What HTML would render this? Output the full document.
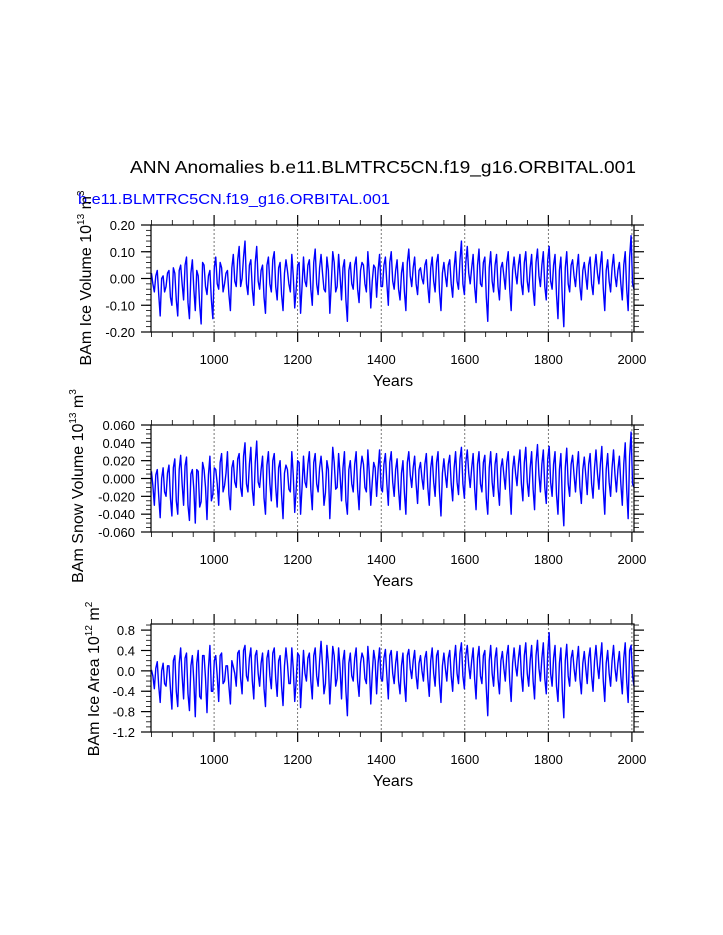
<!DOCTYPE html>
<html><head><meta charset="utf-8"><style>
html,body{margin:0;padding:0;background:#fff;}
svg{display:block;font-family:"Liberation Sans",Arial,sans-serif;}
</style></head><body>
<svg id="chart" width="723" height="935" viewBox="0 0 723 935">
<text x="383" y="173" font-size="17.5" text-anchor="middle" textLength="506" lengthAdjust="spacingAndGlyphs">ANN Anomalies b.e11.BLMTRC5CN.f19_g16.ORBITAL.001</text>
<text x="78" y="204" font-size="15" fill="#0000ff" textLength="312" lengthAdjust="spacingAndGlyphs">b.e11.BLMTRC5CN.f19_g16.ORBITAL.001</text>
<g id="panels"></g>
</svg>
<script>
const startYear = 850;
const yearStep = 7;
const xTicks = [1000,1200,1400,1600,1800,2000];
const iceVolume = [0.02,-0.05,0.03,-0.14,0.01,-0.03,0.03,-0.10,0.02,-0.14,0.05,-0.08,0.08,-0.15,0.07,-0.12,0.01,-0.17,0.05,-0.06,0.03,-0.15,0.08,-0.04,0.04,-0.02,
0.03,-0.12,0.09,-0.03,0.12,0.00,0.14,-0.06,0.07,-0.10,0.12,-0.04,0.05,-0.13,0.08,-0.05,0.10,-0.08,0.06,-0.12,0.07,-0.02,0.09,-0.11,0.05,-0.13,
0.08,-0.03,0.07,-0.10,0.11,-0.06,0.09,-0.04,0.08,-0.13,0.10,-0.05,0.09,-0.08,0.07,-0.16,0.06,-0.04,0.08,-0.09,0.06,-0.02,0.10,-0.11,0.05,-0.07,
0.09,-0.03,0.08,-0.10,0.10,-0.04,0.07,-0.08,0.06,-0.12,0.11,-0.03,0.08,-0.06,0.04,-0.02,0.07,-0.09,0.08,-0.05,0.09,-0.12,0.06,-0.03,0.07,-0.07,
0.10,-0.04,0.14,-0.06,0.12,-0.02,0.09,-0.09,0.11,-0.03,0.08,-0.16,0.10,-0.05,0.09,-0.08,0.06,-0.04,0.10,-0.12,0.08,-0.02,0.09,-0.06,0.10,-0.05,
0.09,-0.10,0.11,-0.03,0.10,-0.08,0.12,-0.04,0.09,-0.15,0.08,-0.18,0.10,-0.05,0.07,-0.03,0.09,-0.08,0.06,-0.04,0.08,-0.06,0.09,-0.02,0.10,-0.12,
0.07,-0.05,0.09,-0.03,0.06,-0.08,0.10,-0.12,0.16,-0.04];
const iceVolumeMid = [-0.02,0.01,-0.06,0.00,-0.05,0.02,-0.07,0.04,-0.08,0.03,-0.02,0.05,-0.09,0.02,-0.04,0.03,-0.10,0.06,-0.03,0.01,-0.08,0.04,-0.02,0.06,-0.05,0.02,
-0.06,0.04,-0.01,0.07,-0.03,0.08,-0.02,0.05,-0.04,0.06,-0.01,0.03,-0.07,0.05,-0.02,0.07,-0.03,0.04,-0.06,0.02,0.03,-0.05,0.01,-0.04,0.06,-0.03,
-0.01,0.05,-0.04,0.06,-0.02,0.04,0.02,-0.05,0.03,-0.02,0.06,-0.03,0.01,0.04,-0.08,0.03,-0.02,0.05,-0.04,0.03,0.05,-0.05,0.02,-0.01,0.04,0.03,
-0.03,0.05,-0.02,0.06,-0.01,0.03,-0.04,0.02,-0.05,0.06,0.01,0.04,-0.02,0.03,0.00,0.05,-0.03,0.04,-0.01,0.06,-0.05,0.02,0.01,0.05,-0.02,0.04,
-0.01,0.07,-0.02,0.06,0.02,0.04,-0.03,0.05,-0.02,0.06,-0.07,0.04,-0.01,0.05,-0.03,0.04,0.01,0.06,-0.04,0.03,0.02,0.05,-0.02,0.06,-0.01,0.04,
-0.04,0.06,0.01,0.05,-0.03,0.07,-0.01,0.05,-0.06,0.03,-0.08,0.04,-0.02,0.05,0.01,0.04,-0.03,0.03,0.01,0.05,-0.02,0.04,0.02,0.05,-0.04,0.03,
-0.01,0.04,0.01,0.03,-0.02,0.05,-0.04,0.08,-0.02,0.03];
const snowVolume = [0.008,-0.030,0.010,-0.044,0.012,-0.020,0.015,-0.042,0.022,-0.040,0.026,-0.030,0.024,-0.047,0.010,-0.050,0.008,-0.026,0.010,-0.046,0.025,-0.018,0.010,-0.030,0.028,-0.008,
0.030,-0.035,0.020,-0.010,0.028,-0.020,0.040,-0.015,0.035,-0.030,0.042,-0.010,0.025,-0.040,0.030,-0.025,0.028,-0.032,0.020,-0.045,0.015,-0.012,0.030,-0.038,0.020,-0.040,
0.025,-0.010,0.030,-0.035,0.028,-0.015,0.025,-0.030,0.020,-0.045,0.035,-0.012,0.028,-0.025,0.030,-0.040,0.020,-0.015,0.030,-0.035,0.025,-0.010,0.032,-0.030,0.018,-0.020,
0.032,-0.015,0.028,-0.030,0.030,-0.020,0.022,-0.035,0.020,-0.040,0.030,-0.010,0.025,-0.028,0.018,-0.012,0.028,-0.030,0.025,-0.020,0.030,-0.042,0.022,-0.010,0.026,-0.025,
0.030,-0.018,0.035,-0.022,0.032,-0.010,0.028,-0.035,0.030,-0.015,0.026,-0.040,0.030,-0.020,0.028,-0.030,0.022,-0.012,0.030,-0.040,0.025,-0.008,0.032,-0.025,0.035,-0.020,
0.030,-0.035,0.038,-0.015,0.032,-0.028,0.036,-0.020,0.030,-0.040,0.028,-0.053,0.034,-0.020,0.026,-0.015,0.030,-0.028,0.024,-0.018,0.028,-0.022,0.032,-0.012,0.036,-0.040,
0.028,-0.020,0.032,-0.015,0.025,-0.030,0.040,-0.045,0.052,-0.010];
const snowVolumeMid = [-0.008,0.004,-0.020,0.000,-0.015,0.006,-0.022,0.012,-0.025,0.010,-0.006,0.014,-0.030,0.005,-0.012,0.010,-0.032,0.018,-0.010,0.004,-0.025,0.012,-0.006,0.018,-0.015,0.006,
-0.018,0.012,-0.004,0.022,-0.010,0.025,-0.006,0.016,-0.012,0.018,-0.004,0.010,-0.022,0.015,-0.006,0.020,-0.010,0.012,-0.018,0.006,0.010,-0.015,0.004,-0.012,0.018,-0.010,
-0.004,0.016,-0.012,0.018,-0.006,0.012,0.006,-0.016,0.010,-0.006,0.018,-0.010,0.004,0.012,-0.025,0.010,-0.006,0.016,-0.012,0.010,0.016,-0.015,0.006,-0.004,0.012,0.010,
-0.010,0.016,-0.006,0.018,-0.004,0.010,-0.012,0.006,-0.016,0.018,0.004,0.012,-0.006,0.010,0.000,0.016,-0.010,0.012,-0.004,0.018,-0.015,0.006,0.004,0.016,-0.006,0.012,
-0.004,0.022,-0.006,0.018,0.006,0.012,-0.010,0.016,-0.006,0.018,-0.022,0.012,-0.004,0.016,-0.010,0.012,0.004,0.018,-0.012,0.010,0.006,0.016,-0.006,0.018,-0.004,0.012,
-0.012,0.018,0.004,0.016,-0.010,0.022,-0.004,0.016,-0.018,0.010,-0.025,0.012,-0.006,0.016,0.004,0.012,-0.010,0.010,0.004,0.016,-0.006,0.012,0.006,0.016,-0.012,0.010,
-0.004,0.012,0.004,0.010,-0.006,0.016,-0.012,0.025,-0.006,0.010];
const iceArea = [0.02,-0.35,0.18,-0.62,0.15,-0.30,0.10,-0.75,0.30,-0.70,0.45,-0.55,0.35,-0.78,0.30,-0.90,0.40,-0.55,0.30,-0.82,0.50,-0.40,0.30,-0.60,0.35,-0.20,
0.10,-0.65,0.08,-0.30,0.40,-0.45,0.50,-0.20,0.45,-0.55,0.40,-0.30,0.35,-0.70,0.40,-0.35,0.45,-0.50,0.30,-0.68,0.45,-0.25,0.45,-0.60,0.35,-0.72,
0.40,-0.20,0.35,-0.55,0.45,-0.30,0.58,-0.45,0.50,-0.65,0.48,-0.30,0.45,-0.55,0.40,-0.88,0.35,-0.20,0.45,-0.50,0.35,-0.15,0.48,-0.65,0.40,-0.45,
0.45,-0.20,0.42,-0.55,0.40,-0.25,0.38,-0.45,0.35,-0.60,0.42,-0.15,0.40,-0.35,0.30,-0.20,0.38,-0.50,0.45,-0.30,0.40,-0.62,0.35,-0.20,0.40,-0.40,
0.50,-0.25,0.55,-0.35,0.50,-0.15,0.45,-0.55,0.48,-0.25,0.40,-0.88,0.50,-0.30,0.45,-0.45,0.38,-0.20,0.50,-0.60,0.45,-0.10,0.50,-0.40,0.55,-0.30,
0.50,-0.55,0.60,-0.20,0.55,-0.45,0.75,-0.30,0.50,-0.60,0.45,-0.92,0.52,-0.30,0.40,-0.20,0.48,-0.45,0.38,-0.25,0.45,-0.40,0.50,-0.15,0.55,-0.60,
0.40,-0.30,0.50,-0.20,0.38,-0.45,0.55,-0.62,0.50,-0.30];
const iceAreaMid = [-0.10,0.05,-0.30,0.00,-0.25,0.10,-0.35,0.20,-0.40,0.15,-0.10,0.25,-0.45,0.10,-0.20,0.15,-0.50,0.30,-0.15,0.05,-0.40,0.20,-0.10,0.30,-0.25,0.10,
-0.30,0.20,-0.05,0.35,-0.15,0.40,-0.10,0.25,-0.20,0.30,-0.05,0.15,-0.35,0.25,-0.10,0.35,-0.15,0.20,-0.30,0.10,0.15,-0.25,0.05,-0.20,0.30,-0.15,
-0.05,0.25,-0.20,0.30,-0.10,0.20,0.10,-0.25,0.15,-0.10,0.30,-0.15,0.05,0.20,-0.40,0.15,-0.10,0.25,-0.20,0.15,0.25,-0.25,0.10,-0.05,0.20,0.15,
-0.15,0.25,-0.10,0.30,-0.05,0.15,-0.20,0.10,-0.25,0.30,0.05,0.20,-0.10,0.15,0.00,0.25,-0.15,0.20,-0.05,0.30,-0.25,0.10,0.05,0.25,-0.10,0.20,
-0.05,0.35,-0.10,0.30,0.10,0.20,-0.15,0.25,-0.10,0.30,-0.35,0.20,-0.05,0.25,-0.15,0.20,0.05,0.30,-0.20,0.15,0.10,0.25,-0.10,0.30,-0.05,0.20,
-0.20,0.30,0.05,0.25,-0.15,0.35,-0.05,0.25,-0.30,0.15,-0.40,0.20,-0.10,0.25,0.05,0.20,-0.15,0.15,0.05,0.25,-0.10,0.20,0.10,0.25,-0.20,0.15,
-0.05,0.20,0.05,0.15,-0.10,0.25,-0.20,0.40,-0.10,0.15];
const iceVolTicks = [-0.2,-0.1,0,0.1,0.2];
const iceVolTickLabels = ["-0.20","-0.10","0.00","0.10","0.20"];
const snowTicks = [-0.06,-0.04,-0.02,0,0.02,0.04,0.06];
const snowTickLabels = ["-0.060","-0.040","-0.020","0.000","0.020","0.040","0.060"];
const areaTicks = [-1.2,-0.8,-0.4,0,0.4,0.8];
const areaTickLabels = ["-1.2","-0.8","-0.4","0.0","0.4","0.8"];

const NS = "http://www.w3.org/2000/svg";
const X0 = 151, X1 = 634, YR0 = 849, YR1 = 2005;
function xScale(yr){ return X0 + (yr - YR0) / (YR1 - YR0) * (X1 - X0); }
function mk(tag, attrs, parent){
  const e = document.createElementNS(NS, tag);
  for (const k in attrs) e.setAttribute(k, attrs[k]);
  parent.appendChild(e); return e;
}
const root = document.getElementById('panels');

const panels = [
  {name:'ice-volume', data:iceVolume, mid:iceVolumeMid, top:225, bot:332, ymin:-0.2, ymax:0.2, ticks:iceVolTicks, labels:iceVolTickLabels, minor:0.02, lab:['BAm Ice Volume 10','13',' m','3'], labX:91, labY:278},
  {name:'snow-volume', data:snowVolume, mid:snowVolumeMid, top:425, bot:532, ymin:-0.06, ymax:0.06, ticks:snowTicks, labels:snowTickLabels, minor:0.005, lab:['BAm Snow Volume 10','13',' m','3'], labX:83, labY:486},
  {name:'ice-area', data:iceArea, mid:iceAreaMid, top:624, bot:732, ymin:-1.2, ymax:0.92, ticks:areaTicks, labels:areaTickLabels, minor:0.1, lab:['BAm Ice Area 10','12',' m','2'], labX:99, labY:679}
];

panels.forEach(function(p){
  const g = mk('g', {}, root);
  
  
  const yScale = v => p.bot - (v - p.ymin) / (p.ymax - p.ymin) * (p.bot - p.top);
  xTicks.forEach(function(t){
    const l = mk('line', {x1:xScale(t), x2:xScale(t), y1:p.top, y2:p.bot, stroke:'#555', 'stroke-width':0.8, 'stroke-dasharray':'2,2'}, g);
    
    
  });
  let d = '';
  p.data.forEach(function(v, i){
    const yr = startYear + i * yearStep;
    d += (i ? 'L' : 'M') + xScale(yr).toFixed(2) + ',' + yScale(v).toFixed(2);
    if (i < p.mid.length && yr + yearStep / 2 <= YR1) {
      d += 'L' + xScale(yr + yearStep / 2).toFixed(2) + ',' + yScale(p.mid[i]).toFixed(2);
    }
  });
  const path = mk('path', {d:d, fill:'none', stroke:'#0000ff', 'stroke-width':1.4, 'stroke-linejoin':'round'}, g);
  
  
  const fr = mk('rect', {x:X0, y:p.top, width:X1 - X0, height:p.bot - p.top, fill:'none', stroke:'#000', 'stroke-width':1.2}, g);
  
  
  for (let yr = 850; yr <= 2000; yr += 50) {
    const major = yr % 200 === 0;
    const len = major ? 10 : 5;
    mk('line', {x1:xScale(yr), x2:xScale(yr), y1:p.bot, y2:p.bot + len, stroke:'#000', 'stroke-width':major ? 1.2 : 0.8}, g);
    mk('line', {x1:xScale(yr), x2:xScale(yr), y1:p.top, y2:p.top - len, stroke:'#000', 'stroke-width':major ? 1.2 : 0.8}, g);
  }
  xTicks.forEach(function(t){
    const tx = mk('text', {x:xScale(t), y:p.bot + 32, 'font-size':13, 'text-anchor':'middle'}, g);
    tx.textContent = String(t);
    
    
  });
  const xt = mk('text', {x:393, y:p.bot + 54, 'font-size':16, 'text-anchor':'middle'}, g);
  xt.textContent = 'Years';
  
  
  const nMinor = Math.round((p.ymax - p.ymin) / p.minor);
  for (let i = 0; i <= nMinor; i++) {
    const v = p.ymin + i * p.minor;
    if (v > p.ymax + 1e-9) break;
    const y = yScale(v);
    mk('line', {x1:X0, x2:X0 - 5, y1:y, y2:y, stroke:'#000', 'stroke-width':0.8}, g);
    mk('line', {x1:X1, x2:X1 + 5, y1:y, y2:y, stroke:'#000', 'stroke-width':0.8}, g);
  }
  p.ticks.forEach(function(t, i){
    const y = yScale(t);
    mk('line', {x1:X0, x2:X0 - 10, y1:y, y2:y, stroke:'#000', 'stroke-width':1.2}, g);
    mk('line', {x1:X1, x2:X1 + 10, y1:y, y2:y, stroke:'#000', 'stroke-width':1.2}, g);
    const tx = mk('text', {x:X0 - 16, y:y + 5, 'font-size':13, 'text-anchor':'end'}, g);
    tx.textContent = p.labels[i];
    
    
  });
  const yt = mk('text', {x:0, y:0, 'font-size':16, 'text-anchor':'middle', transform:'translate(' + p.labX + ',' + p.labY + ') rotate(-90)'}, g);
  
  
  const parts = p.lab;
  const s1 = mk('tspan', {}, yt); s1.textContent = parts[0];
  const s2 = mk('tspan', {dy:-7, 'font-size':10}, yt); s2.textContent = parts[1];
  const s3 = mk('tspan', {dy:7}, yt); s3.textContent = parts[2];
  const s4 = mk('tspan', {dy:-7, 'font-size':10}, yt); s4.textContent = parts[3];
});
</script>
</body></html>
